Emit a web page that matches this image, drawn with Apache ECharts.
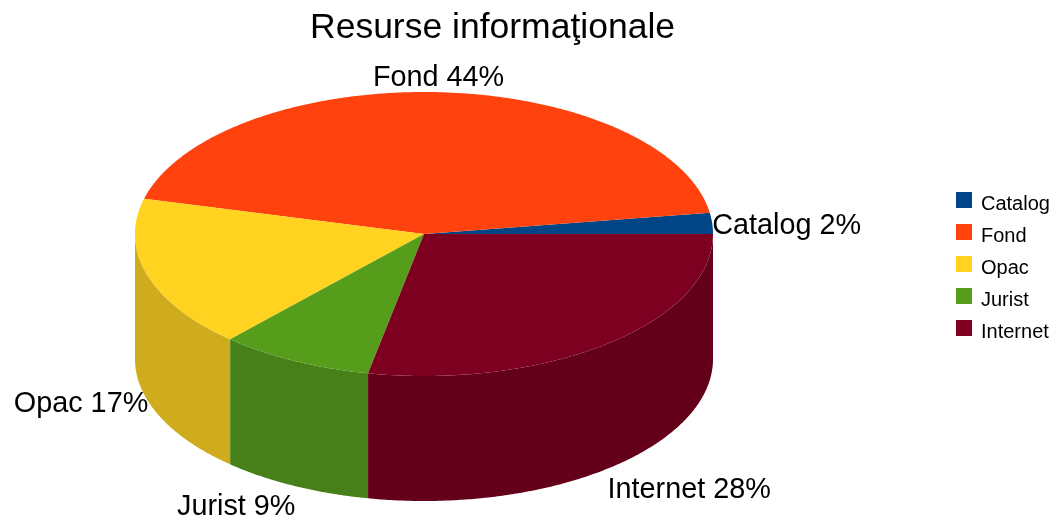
<!DOCTYPE html>
<html>
<head>
<meta charset="utf-8">
<style>
    html, body { margin: 0; padding: 0; background: #fff; }
    #chart { width: 1057px; height: 517px; }
</style>
<script src="https://cdn.jsdelivr.net/npm/echarts@6/dist/echarts.min.js"></script>
</head>
<body>
<div id="chart"></div>
<script>
const names = ["Catalog", "Fond", "Opac", "Jurist", "Internet"];
const values = [2.4, 43.6, 17.3, 8.6, 28.1];
const topColors = ["#004586", "#ff420e", "#ffd320", "#579d1c", "#7e0021"];
const sideColors = ["#00376b", "#cc350b", "#cfab1e", "#477f18", "#65001b"];

const FONT = "'Liberation Sans', Arial, sans-serif";
const cx = 424, cy = 234, rx = 289, ry = 142, depth = 125;
const total = values.reduce((a, b) => a + b, 0);

// 椭圆上的点，角度逆时针，0 度在右边
function rim(deg, drop) {
    const a = deg * Math.PI / 180;
    return [cx + rx * Math.cos(a), cy - ry * Math.sin(a) + (drop || 0)];
}

function arc(from, to, drop) {
    const pts = [];
    const steps = Math.max(2, Math.ceil((to - from) * 2));
    for (let i = 0; i <= steps; i++) {
        pts.push(rim(from + (to - from) * i / steps, drop));
    }
    return pts;
}

function labelElement(text, deg) {
    const a = deg * Math.PI / 180;
    const c = Math.cos(a), s = Math.sin(a);
    const front = s < 0;
    const p = rim(deg, front ? depth : 0);
    let verticalAlign = "middle";
    if (s > 0.5) verticalAlign = "bottom";
    if (s < -0.5) verticalAlign = "top";
    const centered = Math.abs(c) < 0.2;
    let dy = verticalAlign === "top" ? 7 : 4;
    if (!front) dy = verticalAlign === "bottom" ? 0 : 3;
    return {
        type: "text",
        x: p[0] + (c < -0.2 ? 1 : 0),
        y: p[1] + dy,
        style: {
            text: text,
            fill: "#000",
            font: "28.8px " + FONT,
            align: centered ? "center" : (c > 0 ? "left" : "right"),
            verticalAlign: verticalAlign,
        },
    };
}

function sliceRenderer(index, start, end) {
    return function () {
        const children = [];
        // 只有前半圈看得到侧面
        const sideFrom = Math.max(start, 180), sideTo = Math.min(end, 360);
        if (sideTo > sideFrom) {
            children.push({
                type: "polygon",
                shape: { points: arc(sideFrom, sideTo, 0).concat(arc(sideFrom, sideTo, depth).reverse()) },
                style: { fill: sideColors[index] },
            });
        }
        children.push({
            type: "polygon",
            shape: { points: [[cx, cy]].concat(arc(start, end, 0)) },
            style: { fill: topColors[index] },
        });
        const percent = Math.round(values[index] / total * 100);
        children.push(labelElement(names[index] + " " + percent + "%", (start + end) / 2));
        return { type: "group", children: children };
    };
}

let running = 0;
const series = names.map((name, i) => {
    const start = running / total * 360;
    running += values[i];
    const end = running / total * 360;
    return {
        name: name,
        type: "custom",
        coordinateSystem: "none",
        silent: true,
        itemStyle: { color: topColors[i] },
        data: [values[i]],
        renderItem: sliceRenderer(i, start, end),
    };
});

const option = {
    animation: false,
    backgroundColor: "#fff",
    title: {
        text: "Resurse informaţionale",
        left: 310,
        top: 10,
        padding: 0,
        textStyle: { fontFamily: FONT, fontSize: 35.5, fontWeight: "normal", color: "#000" },
    },
    legend: {
        orient: "vertical",
        left: 956,
        top: 192,
        padding: 0,
        itemWidth: 16,
        itemHeight: 16,
        itemGap: 9.5,
        icon: "rect",
        data: names,
        formatter: "{a|{name}}",
        textStyle: {
            padding: [0, 0, 0, 4],
            rich: {
                a: { fontFamily: FONT, fontSize: 20, color: "#000", padding: [9, 0, 0, 0] },
            },
        },
    },
    series: series,
};

const chart = echarts.init(document.getElementById("chart"));
chart.setOption(option);
</script>
</body>
</html>
